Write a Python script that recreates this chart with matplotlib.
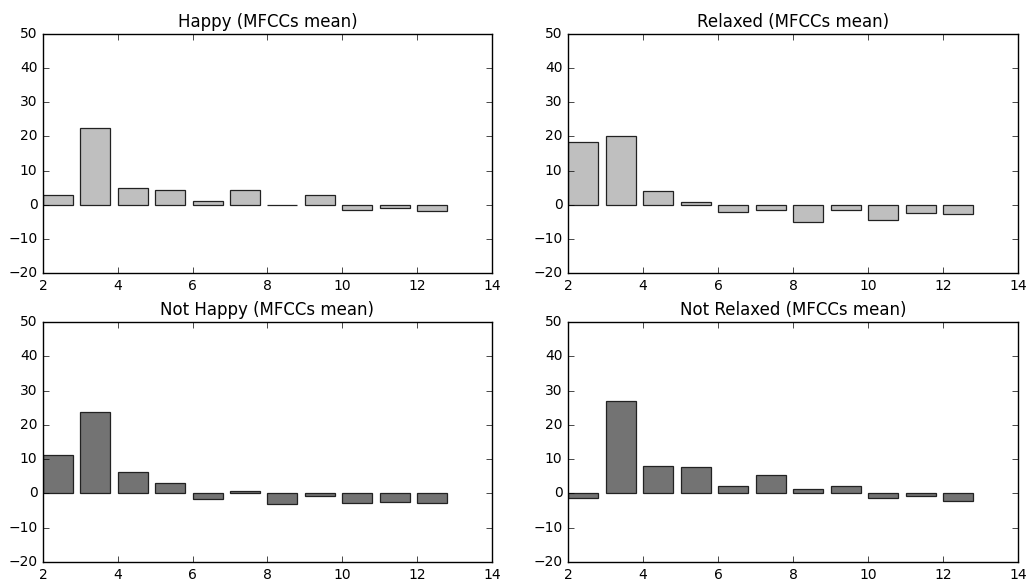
import matplotlib
matplotlib.use('Agg')
import matplotlib.pyplot as plt
import numpy as np

plt.style.use('classic')

coef = np.arange(2, 13)

happy = [2.9, 22.6, 5.0, 4.3, 1.0, 4.3, 0.05, 2.9, -1.4, -1.1, -1.7]
relaxed = [18.3, 20.1, 4.1, 0.9, -2.0, -1.6, -5.0, -1.6, -4.4, -2.5, -2.7]
not_happy = [11.1, 23.8, 6.3, 3.1, -1.5, 0.8, -3.2, -0.7, -2.9, -2.4, -2.9]
not_relaxed = [-1.3, 27.0, 8.0, 7.7, 2.2, 5.5, 1.4, 2.2, -1.3, -0.8, -2.2]

panels = [
    ('Happy (MFCCs mean)', happy, '#bfbfbf', [0.0416, 0.5293, 0.4347, 0.412]),
    ('Relaxed (MFCCs mean)', relaxed, '#bfbfbf', [0.5499, 0.5293, 0.4356, 0.412]),
    ('Not Happy (MFCCs mean)', not_happy, '#737373', [0.0416, 0.031, 0.4347, 0.414]),
    ('Not Relaxed (MFCCs mean)', not_relaxed, '#737373', [0.5499, 0.031, 0.4356, 0.414]),
]

fig = plt.figure(figsize=(10.33, 5.8), dpi=100, facecolor='white')

for title, vals, col, rect in panels:
    ax = fig.add_axes(rect)
    ax.bar(coef, vals, width=0.8, align='edge', color=col, edgecolor='#222222', linewidth=0.9)
    ax.set_xlim(2, 14)
    ax.set_ylim(-20, 50)
    ax.set_xticks(np.arange(2, 15, 2))
    ax.set_yticks(np.arange(-20, 51, 10))
    ax.tick_params(labelsize=10)
    ax.set_title(title, fontsize=12)

fig.savefig('out.png', dpi=100, facecolor='white')
